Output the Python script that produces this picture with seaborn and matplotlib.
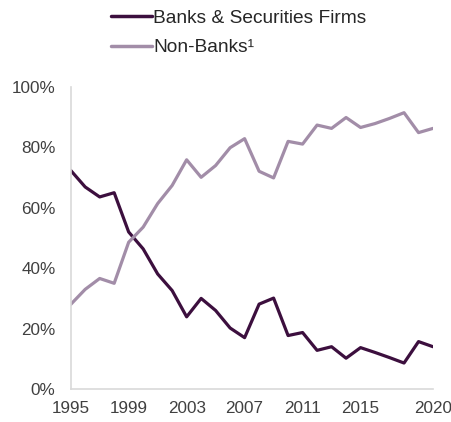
import numpy as np
import pandas as pd
import matplotlib
matplotlib.use("Agg")
import matplotlib.pyplot as plt
import seaborn as sns
from matplotlib.lines import Line2D

years = list(range(1995, 2021))
banks = [72.4, 66.9, 63.6, 65.0, 52.0, 46.4, 38.1, 32.6, 23.9, 30.0,
         26.0, 20.2, 17.0, 28.1, 30.1, 17.7, 18.7, 12.8, 14.0, 10.2,
         13.7, 12.1, 10.4, 8.6, 15.7, 14.0]
non_banks = [28.0, 33.0, 36.6, 35.0, 48.6, 53.6, 61.4, 67.4, 75.9, 70.1,
             74.0, 79.9, 82.9, 72.1, 69.9, 82.0, 81.1, 87.4, 86.3, 89.9,
             86.6, 87.9, 89.6, 91.5, 84.9, 86.3]
series_names = ["Banks & Securities Firms", "Non-Banks\u00b9"]
colors = ["#3c0f3e", "#a28da8"]
xtick_labels = [1995, 1999, 2003, 2007, 2011, 2015, 2020]
ytick_values = [0, 20, 40, 60, 80, 100]

df = pd.DataFrame({
    "year": years * 2,
    "value": banks + non_banks,
    "series": [series_names[0]] * len(years) + [series_names[1]] * len(years),
})

sns.set_theme(style="white")
plt.rcParams["font.family"] = ["Liberation Sans", "DejaVu Sans"]

fig = plt.figure(figsize=(4.52, 4.22), dpi=100)
ax = fig.add_axes([0.1564, 0.0782, 0.8016, 0.7156])

sns.lineplot(data=df, x="year", y="value", hue="series",
             palette=dict(zip(series_names, colors)), linewidth=2.3,
             ax=ax, legend=False)

ax.set_xlim(1995, 2020)
ax.set_ylim(0, 100)
ax.set_xticks(xtick_labels)
ax.set_xticklabels([str(v) for v in xtick_labels])
ax.set_yticks(ytick_values)
ax.set_yticklabels([f"{v}%" for v in ytick_values])
ax.set_xlabel("")
ax.set_ylabel("")
for s in ["top", "right"]:
    ax.spines[s].set_visible(False)
for s in ["left", "bottom"]:
    ax.spines[s].set_color("#d9d9d9")
    ax.spines[s].set_linewidth(1.2)
ax.tick_params(axis="both", length=0, labelsize=12.3, colors="#404040")
ax.tick_params(axis="x", pad=9)
ax.tick_params(axis="y", pad=11)

handles = [Line2D([0], [0], color=c, lw=2.5) for c in colors]
fig.legend(handles, series_names, loc="upper left",
           bbox_to_anchor=(0.2456, 0.977), frameon=False, fontsize=13.8,
           handlelength=2.15, handletextpad=0.05, labelspacing=0.62,
           borderpad=0, borderaxespad=0, labelcolor="#262626")

fig.savefig("out.png", dpi=100)
